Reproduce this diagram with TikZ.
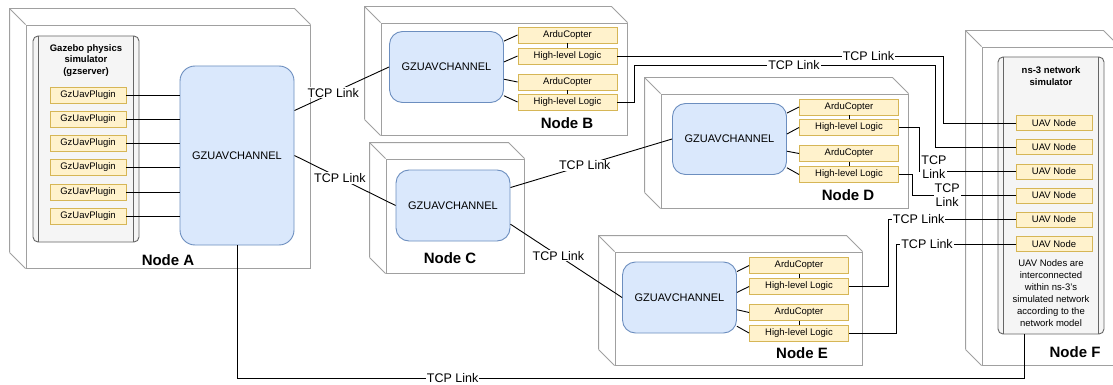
\documentclass[tikz,border=0pt]{standalone}
\usepackage{fontspec}
\setmainfont{Liberation Sans}
\usetikzlibrary{positioning, calc}

\definecolor{chanfill}{HTML}{DAE8FC}
\definecolor{chanline}{HTML}{6C8EBF}
\definecolor{partfill}{HTML}{FFF2CC}
\definecolor{partline}{HTML}{D6B656}
\definecolor{simfill}{HTML}{F5F5F5}
\definecolor{simgray}{HTML}{666666}
\definecolor{cubegray}{HTML}{A0A0A0}

\tikzset{
    %front face of a machine
    machine/.style={
           rectangle,
           draw=cubegray, line width=0.9pt,
           fill=white,
           inner sep=0pt},
    machineline/.style={draw=cubegray, line width=0.9pt},
 %
    simulator/.style={
           rectangle,
           rounded corners=5pt,
           draw=simgray, line width=0.9pt,
           fill=simfill,
           inner sep=0pt},
    simtitle/.style={align=center, font=\fontsize{9.5}{11.5}\selectfont\bfseries},
 %
    channel/.style={
           rectangle,
           rounded corners=13pt,
           draw=chanline, line width=0.9pt,
           fill=chanfill,
           minimum width=114pt,
           minimum height=71pt,
           font=\fontsize{11}{13}\selectfont},
 %
    part/.style={
           rectangle,
           draw=partline, line width=0.9pt,
           fill=partfill,
           minimum height=16pt,
           inner sep=0pt,
           font=\fontsize{9.5}{11}\selectfont},
    plugin/.style={part, minimum width=76pt},
    copter/.style={part, minimum width=99pt},
    uav/.style={part, minimum width=76pt, minimum height=15pt},
 %
    nodelabel/.style={font=\fontsize{15}{17}\selectfont\bfseries},
    % Define connector style
    link/.style={draw=black, line width=0.9pt},
    tcp/.style={fill=white, inner sep=1pt, font=\fontsize{12.5}{14}\selectfont},
    tcptwo/.style={tcp, align=center}
}

% back edges of a machine box
\newcommand{\machineback}[1]{%
  \draw[machineline] ([shift={(-16,-16)}]#1.south west) -- ([shift={(-16,-16)}]#1.north west)
      -- ([shift={(-16,-16)}]#1.north east) -- (#1.north east);
  \draw[machineline] ([shift={(-16,-16)}]#1.north west) -- (#1.north west)
      ([shift={(-16,-16)}]#1.south west) -- (#1.south west);}

\begin{document}
\begin{tikzpicture}[x=1pt, y=-1pt]
  \useasboundingbox (0,0) rectangle (1113,385);
  \clip (0,0) rectangle (1113,385);

  % machines
  \node[machine, minimum width=284pt, minimum height=243pt] (boxA) at (168,146.5) {};
  \machineback{boxA}
  \node[machine, minimum width=246pt, minimum height=112pt] (boxB) at (504,79) {};
  \machineback{boxB}
  \node[machine, minimum width=138pt, minimum height=114pt] (boxC) at (455,216) {};
  \machineback{boxC}
  \node[machine, minimum width=247pt, minimum height=114pt] (boxD) at (784.5,151) {};
  \machineback{boxD}
  \node[machine, minimum width=247pt, minimum height=113pt] (boxE) at (738.5,308.5) {};
  \machineback{boxE}
  \node[machine, minimum width=137pt, minimum height=318pt] (boxF) at (1050.5,206) {};
  \machineback{boxF}

  \node[nodelabel] (labA) at (168,260) {Node A};
  \node[nodelabel] (labB) at (567,123) {Node B};
  \node[nodelabel] (labC) at (450,258) {Node C};
  \node[nodelabel] (labD) at (848,195) {Node D};
  \node[nodelabel] (labE) at (802,353) {Node E};
  \node[nodelabel] (labF) at (1075,352) {Node F};

  % Node A
  \node[simulator, minimum width=106pt, minimum height=206pt] (gazebo) at (86,139) {};
  \draw[simgray, line width=0.9pt] ([xshift=6pt]gazebo.north west) -- ([xshift=6pt]gazebo.south west)
      ([xshift=-6pt]gazebo.north east) -- ([xshift=-6pt]gazebo.south east);
  \node[simtitle] (gztitle) at (86,60.5) {Gazebo physics\\simulator\\(gzserver)};
  \node[plugin] (plugA1) at (88,95) {GzUavPlugin};
  \node[plugin] (plugA2) at (88,119) {GzUavPlugin};
  \node[plugin] (plugA3) at (88,143) {GzUavPlugin};
  \node[plugin] (plugA4) at (88,167) {GzUavPlugin};
  \node[plugin] (plugA5) at (88,192) {GzUavPlugin};
  \node[plugin] (plugA6) at (88,216) {GzUavPlugin};
  \node[channel, rounded corners=15pt, minimum width=114pt, minimum height=179pt] (chanA) at (237,155.5) {GZUAVCHANNEL};
  \foreach \i in {1,...,6}
    \draw[link] (plugA\i.east) -- (plugA\i.east -| chanA.west);

  % Node B
  \node[channel] (chanB) at (446.5,67) {GZUAVCHANNEL};
  \node[copter] (acB1) at (567.5,35) {ArduCopter};
  \node[copter] (hlB1) at (567.5,56) {High-level Logic};
  \node[copter] (acB2) at (567.5,82) {ArduCopter};
  \node[copter] (hlB2) at (567.5,102) {High-level Logic};

  % Node C
  \node[channel] (chanC) at (453,205.5) {GZUAVCHANNEL};

  % Node D
  \node[channel] (chanD) at (729.5,139) {GZUAVCHANNEL};
  \node[copter] (acD1) at (849,107) {ArduCopter};
  \node[copter] (hlD1) at (849,127.5) {High-level Logic};
  \node[copter] (acD2) at (849,153.5) {ArduCopter};
  \node[copter] (hlD2) at (849,174.5) {High-level Logic};

  % Node E
  \node[channel] (chanE) at (679.5,297.5) {GZUAVCHANNEL};
  \node[copter] (acE1) at (799,265.5) {ArduCopter};
  \node[copter] (hlE1) at (799,286.5) {High-level Logic};
  \node[copter] (acE2) at (799,312.5) {ArduCopter};
  \node[copter] (hlE2) at (799,333) {High-level Logic};

  \foreach \n in {B,D,E} {
    \draw[link] ($(chan\n.north east)!0.14!(chan\n.south east)$) -- (ac\n1.west);
    \draw[link] ($(chan\n.north east)!0.43!(chan\n.south east)$) -- (hl\n1.west);
    \draw[link] ($(chan\n.north east)!0.67!(chan\n.south east)$) -- (ac\n2.west);
    \draw[link] ($(chan\n.north east)!0.90!(chan\n.south east)$) -- (hl\n2.west);
    \draw[link] (ac\n1) -- (hl\n1);
    \draw[link] (ac\n2) -- (hl\n2);
  }

  % Node F
  \node[simulator, minimum width=106pt, minimum height=277pt] (nsthree) at (1051,195.5) {};
  \draw[simgray, line width=0.9pt] ([xshift=6pt]nsthree.north west) -- ([xshift=6pt]nsthree.south west)
      ([xshift=-6pt]nsthree.north east) -- ([xshift=-6pt]nsthree.south east);
  \node[simtitle] (nstitle) at (1051,76) {ns-3 network\\simulator};
  \node[uav] (uav1) at (1054,123) {UAV Node};
  \node[uav] (uav2) at (1054,147) {UAV Node};
  \node[uav] (uav3) at (1054,171.5) {UAV Node};
  \node[uav] (uav4) at (1054,195.5) {UAV Node};
  \node[uav] (uav5) at (1054,219.5) {UAV Node};
  \node[uav] (uav6) at (1054,244) {UAV Node};
  \node[align=center, font=\fontsize{9.5}{12}\selectfont] (nsnote) at (1051,293)
      {UAV Nodes are\\interconnected\\within ns-3's\\simulated network\\according to the\\network model};

  % TCP links between channels
  \draw[link] ($(chanA.north east)!0.25!(chanA.south east)$) -- node[tcp, pos=0.41] {TCP Link} (chanB.west);
  \draw[link] (chanA.east) -- node[tcp, pos=0.45] {TCP Link} (chanC.west);
  \draw[link] ($(chanC.north east)!0.25!(chanC.south east)$) -- node[tcp, pos=0.46] {TCP Link} (chanD.west);
  \draw[link] ($(chanC.north east)!0.76!(chanC.south east)$) -- node[tcp, pos=0.43] {TCP Link} (chanE.west);

  % TCP links to ns-3
  \draw[link] (hlB1.east) -- node[tcp, pos=0.77] {TCP Link} ++(326,0) |- (uav1.west);
  \draw[link] (hlB2.east) -- ++(17,0) -- ++(0,-37) -- node[tcp, pos=0.53] {TCP Link} ++(301,0) |- (uav2.west);
  \draw[link] (hlD1.east) -- ++(20,0) |- node[tcptwo, pos=0.5, anchor=west, xshift=1pt, yshift=4pt] {TCP\\Link} (uav3.west);
  \draw[link] (hlD2.east) -- ++(13,0) |- node[tcptwo, pos=0.67] {TCP\\Link} (uav4.west);
  \draw[link] (hlE1.east) -- ++(39,0) |- node[tcp, pos=0.62] {TCP Link} (uav5.west);
  \draw[link] (hlE2.east) -- ++(47,0) |- node[tcp, pos=0.63] {TCP Link} (uav6.west);
  \draw[link] (chanA.south) -- ++(0,133) -| node[tcp, inner sep=0.5pt, pos=0.137] {TCP Link} ([xshift=-27pt]nsthree.south);
\end{tikzpicture}
\end{document}
